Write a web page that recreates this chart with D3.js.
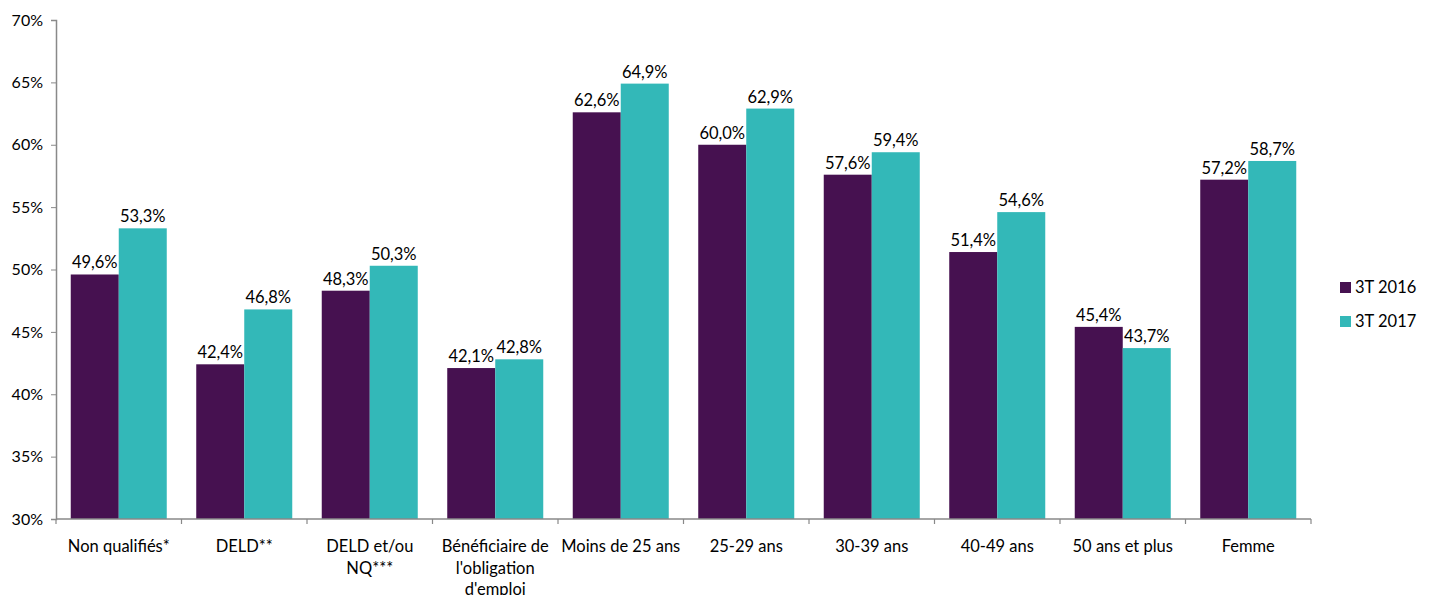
<!DOCTYPE html>
<html><head><meta charset="utf-8">
<script src="https://cdn.jsdelivr.net/npm/d3@7"></script>
<style>body{margin:0;background:#fff;} text{font-family:Lato,"Open Sans",sans-serif;}</style>
</head><body>
<svg id="c" width="1430" height="595"></svg>
<script>
const categories = [["Non qualifiés*"],["DELD**"],["DELD et/ou","NQ***"],["Bénéficiaire de","l'obligation","d'emploi"],["Moins de 25 ans"],["25-29 ans"],["30-39 ans"],["40-49 ans"],["50 ans et plus"],["Femme"]];
const series2016 = [49.6,42.4,48.3,42.1,62.6,60.0,57.6,51.4,45.4,57.2];
const series2017 = [53.3,46.8,50.3,42.8,64.9,62.9,59.4,54.6,43.7,58.7];
const seriesNames = ["3T 2016","3T 2017"];
const yTicks = [30,35,40,45,50,55,60,65,70];
const colors = ["#461150","#33B8B8"];

const svg = d3.select("#c");
const L = 56, R = 1311, T = 20, B = 519;
const FS = 16.5;
const keys = categories.map((c,i)=>i);
const x0 = d3.scaleBand().domain(keys).range([L,R]).paddingInner(0.235).paddingOuter(0.1175);
const x1 = d3.scaleBand().domain([0,1]).range([0,x0.bandwidth()]);
const y = d3.scaleLinear().domain([30,70]).range([B,T]);
const fmt = v => d3.format(".1f")(v).replace(".",",") + "%";

// y axis
const ya = svg.append("g").attr("transform",`translate(${L},0)`)
  .call(d3.axisLeft(y).tickValues(yTicks).tickSize(5).tickPadding(8).tickFormat(d=>d+"%"));
ya.select(".domain").attr("stroke","#898989").attr("stroke-width",1.5);
ya.selectAll(".tick line").attr("stroke","#898989");
ya.selectAll(".tick text").attr("font-size",16).attr("fill","#000").style("font-family","Lato");

const data = [series2016, series2017];
const g = svg.append("g");
keys.forEach(i=>{
  [0,1].forEach(s=>{
    const v = data[s][i];
    const xx = x0(i)+x1(s);
    g.append("rect").attr("x",xx).attr("y",y(v)).attr("width",x1.bandwidth()).attr("height",B-y(v)).attr("fill",colors[s]);
    g.append("text").attr("x",xx+x1.bandwidth()/2).attr("y",y(v)-6).attr("text-anchor","middle")
      .attr("font-size",FS).attr("fill","#000").text(fmt(v));
  });
});

// x axis
const step = x0.step();
const xa = svg.append("g");
xa.append("line").attr("x1",L).attr("x2",R).attr("y1",B).attr("y2",B).attr("stroke","#898989").attr("stroke-width",1.5);
d3.range(categories.length+1).forEach(k=>{
  const xx = L + k*step;
  xa.append("line").attr("x1",xx).attr("x2",xx).attr("y1",B).attr("y2",B+5).attr("stroke","#898989").attr("stroke-width",1.2);
});
keys.forEach(i=>{
  const t = xa.append("text").attr("text-anchor","middle").attr("font-size",FS).attr("fill","#000");
  categories[i].forEach((ln,j)=>{
    t.append("tspan").attr("x",x0(i)+x0.bandwidth()/2).attr("y",552+j*21.5).text(ln);
  });
});

// legend
seriesNames.forEach((n,s)=>{
  const ly = 287.5 + s*34;
  svg.append("rect").attr("x",1340).attr("y",ly-5.5).attr("width",11).attr("height",11).attr("fill",colors[s]);
  svg.append("text").attr("x",1355).attr("y",ly+5.5).attr("font-size",FS).attr("fill","#000").text(n);
});
</script>
</body></html>
